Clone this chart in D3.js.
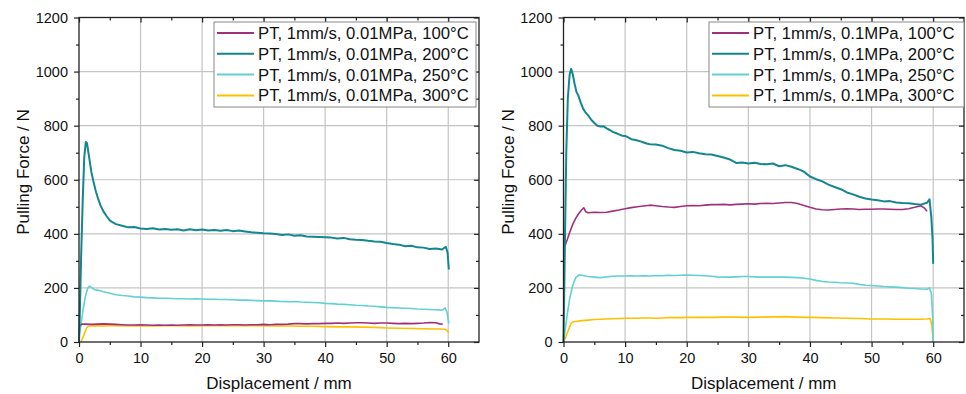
<!DOCTYPE html>
<html>
<head>
<meta charset="utf-8">
<script src="https://cdn.jsdelivr.net/npm/d3@7/dist/d3.min.js"></script>
<style>
  body { margin: 0; background: #fff; }
  svg { display: block; font-family: "Liberation Sans", Arial, sans-serif; }
</style>
</head>
<body>
<script>
"use strict";

// ---- data ------------------------------------------------------------------
const xTicks = [0, 10, 20, 30, 40, 50, 60];
const yTicks = [0, 200, 400, 600, 800, 1000, 1200];
const colors = ["#a0307c", "#13868e", "#62d0d4", "#ffc000"];
const namesLow = ["PT, 1mm/s, 0.01MPa, 100°C", "PT, 1mm/s, 0.01MPa, 200°C",
                  "PT, 1mm/s, 0.01MPa, 250°C", "PT, 1mm/s, 0.01MPa, 300°C"];
const namesHigh = ["PT, 1mm/s, 0.1MPa, 100°C", "PT, 1mm/s, 0.1MPa, 200°C",
                   "PT, 1mm/s, 0.1MPa, 250°C", "PT, 1mm/s, 0.1MPa, 300°C"];

// 0.01 MPa
const low100 = [[0.2,62],[0.5,66],[1,66],[2,65],[3,66],[4,67],[5,66],[6,65],[7,64],[8,63],[9,63],[10,64],[11,63],[12,62],[13,63],[14,62],[15,63],[16,62],[17,63],[18,64],[19,63],[20,63],[21,64],[22,63],[23,64],[24,63],[25,64],[26,64],[27,63],[28,64],[29,64],[30,65],[31,64],[32,65],[33,65],[34,66],[35,68],[36,68],[37,67],[38,68],[39,68],[40,69],[41,69],[42,70],[43,69],[44,70],[45,71],[46,71],[47,70],[48,69],[49,70],[50,70],[51,69],[52,68],[53,69],[54,68],[55,69],[56,70],[57,72],[58,71],[58.6,67],[59.1,66]];
const low200 = [[0,0],[0.15,120],[0.35,320],[0.6,520],[0.85,680],[1.1,740],[1.3,735],[1.6,690],[2,630],[2.3,598],[2.7,560],[3.1,530],[3.5,505],[4,482],[4.5,465],[5,450],[5.5,442],[6,436],[7,430],[8,424],[9,425],[10,420],[11,418],[12,421],[13,416],[14,418],[15,415],[16,417],[17,412],[18,417],[19,413],[20,416],[21,412],[22,414],[23,411],[24,414],[25,410],[26,412],[27,409],[28,406],[29,404],[30,402],[31,401],[32,399],[33,396],[34,398],[35,393],[36,395],[37,390],[38,389],[39,388],[40,387],[41,386],[42,383],[43,385],[44,380],[45,378],[46,377],[47,374],[48,372],[49,371],[50,366],[51,362],[52,360],[53,354],[54,356],[55,350],[56,349],[57,344],[58,346],[59,342],[59.6,352],[59.9,330],[60.1,268]];
const low250 = [[0,20],[0.3,60],[0.6,110],[1.0,165],[1.4,198],[1.7,207],[2.1,200],[2.6,193],[3,192],[4,186],[5,180],[6,175],[7,172],[8,170],[9,167],[10,166],[11,164],[12,163],[13,162],[14,162],[15,161],[16,160],[17,160],[18,159],[19,160],[20,159],[21,158],[22,158],[23,157],[24,157],[25,156],[26,155],[27,155],[28,154],[29,153],[30,152],[31,152],[32,151],[33,150],[34,149],[35,150],[36,148],[37,147],[38,146],[39,145],[40,143],[41,142],[42,140],[43,139],[44,138],[45,136],[46,135],[47,133],[48,132],[49,130],[50,128],[51,127],[52,126],[53,125],[54,124],[55,122],[56,121],[57,120],[58,119],[59,118],[59.5,126],[59.8,110],[60.1,68]];
const low300 = [[0.3,0],[0.6,15],[0.9,32],[1.2,50],[1.5,58],[2,59],[3,60],[4,59],[5,60],[6,60],[8,59],[10,60],[12,59],[14,60],[16,60],[18,59],[20,60],[22,60],[24,60],[26,60],[28,60],[30,60],[32,59],[34,59],[36,58],[38,58],[40,57],[42,56],[44,56],[46,55],[48,54],[50,52],[52,51],[54,50],[56,49],[58,48],[59,48],[59.6,46],[59.9,40],[60.1,33]];

// 0.1 MPa
const high100 = [[0,348],[0.3,360],[0.6,378],[1,405],[1.5,435],[2,458],[2.5,476],[3,490],[3.3,496],[3.6,482],[4,478],[5,480],[6,479],[7,480],[8,484],[9,488],[10,493],[11,497],[12,500],[13,503],[14,506],[15,504],[16,501],[17,499],[18,498],[19,501],[20,504],[21,505],[22,504],[23,506],[24,508],[25,508],[26,509],[27,507],[28,509],[29,510],[30,511],[31,510],[32,512],[33,513],[34,512],[35,514],[36,516],[37,516],[38,512],[39,505],[40,498],[41,492],[42,489],[43,488],[44,490],[45,492],[46,493],[47,492],[48,490],[49,491],[50,491],[51,492],[52,492],[53,491],[54,490],[55,490],[56,493],[57,498],[58,504],[58.6,495],[59,483]];
const high200 = [[0,0],[0.1,150],[0.25,400],[0.45,700],[0.7,900],[1.0,990],[1.25,1010],[1.5,990],[1.8,955],[2.1,925],[2.4,912],[2.8,885],[3.2,862],[3.6,848],[4,838],[4.5,822],[5,810],[5.5,800],[6,797],[6.5,798],[7,790],[7.5,784],[8,777],[8.5,773],[9,768],[9.5,763],[10,762],[10.5,757],[11,750],[11.5,748],[12,745],[12.5,742],[13,738],[13.5,734],[14,731],[15,730],[16,726],[17,717],[18,710],[19,707],[20,701],[21,703],[22,698],[23,694],[24,693],[25,688],[26,682],[27,675],[28,662],[29,664],[30,660],[31,663],[32,658],[33,657],[34,660],[35,650],[36,654],[37,648],[38,640],[39,630],[40,612],[41,602],[42,594],[43,582],[44,573],[45,565],[46,553],[47,546],[48,537],[49,531],[50,527],[51,524],[52,520],[53,521],[54,516],[55,514],[56,513],[57,510],[58,508],[59,515],[59.4,528],[59.7,460],[59.9,380],[60,289]];
const high250 = [[0,0],[0.3,50],[0.6,100],[1,160],[1.5,210],[2,238],[2.5,248],[3,247],[3.5,244],[4,242],[5,240],[6,238],[7,241],[8,243],[9,244],[10,244],[11,245],[12,244],[13,245],[14,244],[15,246],[16,245],[17,247],[18,246],[19,247],[20,248],[21,247],[22,246],[23,245],[24,243],[25,241],[26,240],[27,240],[28,241],[29,242],[30,242],[31,241],[32,240],[33,240],[34,240],[35,240],[36,240],[37,239],[38,238],[39,236],[40,233],[41,228],[42,224],[43,222],[44,221],[45,219],[46,218],[47,217],[48,213],[49,210],[50,209],[51,207],[52,205],[53,204],[54,203],[55,201],[56,199],[57,198],[58,196],[59,195],[59.4,200],[59.7,180],[59.9,100],[60,0]];
const high300 = [[0,0],[0.4,20],[0.8,45],[1.2,68],[1.5,74],[2,76],[3,79],[4,81],[5,83],[6,84],[7,85],[8,86],[9,87],[10,88],[11,88],[12,88],[13,89],[14,89],[15,88],[16,89],[17,90],[18,90],[19,90],[20,91],[22,91],[24,91],[26,92],[28,92],[30,91],[32,92],[34,93],[36,94],[38,92],[40,91],[42,90],[44,89],[46,88],[48,87],[50,85],[52,85],[54,84],[56,84],[58,84],[59,85],[59.5,87],[59.8,60],[60,0]];

// ---------------------------------------------------------------------------

const svg = d3.select("body").append("svg")
              .attr("width", 966)
              .attr("height", 394);

const drawPanel = (left, right, series, names, legendX, legendW) => {
  const top = 17.5, bottom = 342;
  const x = d3.scaleLinear().domain([0, 65]).range([left, right]);
  const y = d3.scaleLinear().domain([0, 1200]).range([bottom, top]);
  const g = svg.append("g");
  const minorX = d3.range(5, 65, 10);
  const minorY = d3.range(100, 1200, 200);
  const noDomain = sel => sel.call(_ => _.select(".domain").remove());

  // grid
  g.append("g").selectAll("line").data(xTicks.slice(1)).enter().append("line")
   .attr("x1", d => x(d)).attr("x2", d => x(d)).attr("y1", top).attr("y2", bottom)
   .attr("stroke", "#c4c4c4").attr("stroke-width", 1.2);
  g.append("g").selectAll("line").data(yTicks.slice(1, -1)).enter().append("line")
   .attr("y1", d => y(d)).attr("y2", d => y(d)).attr("x1", left).attr("x2", right)
   .attr("stroke", "#c4c4c4").attr("stroke-width", 1.2);

  // curves
  const line = d3.line().x(d => x(d[0])).y(d => y(d[1]));
  const order = [3, 2, 0, 1];
  order.forEach(i => {
    g.append("path").datum(series[i])
     .attr("d", line)
     .attr("fill", "none")
     .attr("stroke", colors[i])
     .attr("stroke-width", i === 1 ? 2 : 1.6)
     .attr("stroke-linejoin", "round");
  });

  // axes
  const font = sel => sel.selectAll("text").attr("font-size", 14.5).attr("fill", "#111")
                         .attr("font-family", "'Liberation Sans', Arial, sans-serif");
  g.append("g").attr("transform", `translate(0,${bottom})`)
   .call(d3.axisBottom(x).tickValues(xTicks).tickSize(5).tickPadding(6).tickFormat(d3.format("d")))
   .call(noDomain).call(font);
  g.append("g").attr("transform", `translate(0,${bottom})`)
   .call(d3.axisBottom(x).tickValues(minorX).tickSize(3).tickFormat(""))
   .call(noDomain);
  g.append("g").attr("transform", `translate(${left},0)`)
   .call(d3.axisLeft(y).tickValues(yTicks).tickSize(5).tickPadding(6).tickFormat(d3.format("d")))
   .call(noDomain).call(font);
  g.append("g").attr("transform", `translate(${left},0)`)
   .call(d3.axisLeft(y).tickValues(minorY).tickSize(3).tickFormat(""))
   .call(noDomain);
  g.append("g").attr("transform", `translate(0,${top})`)
   .call(d3.axisTop(x).tickValues(xTicks).tickSize(-5).tickFormat(""))
   .call(noDomain);
  g.append("g").attr("transform", `translate(0,${top})`)
   .call(d3.axisTop(x).tickValues(minorX).tickSize(-3).tickFormat(""))
   .call(noDomain);
  g.append("g").attr("transform", `translate(${right},0)`)
   .call(d3.axisRight(y).tickValues(yTicks).tickSize(-5).tickFormat(""))
   .call(noDomain);
  g.append("g").attr("transform", `translate(${right},0)`)
   .call(d3.axisRight(y).tickValues(minorY).tickSize(-3).tickFormat(""))
   .call(noDomain);
  g.selectAll(".tick line").attr("stroke", "#222").attr("stroke-width", 1.2);

  g.append("rect")
   .attr("x", left).attr("y", top)
   .attr("width", right - left).attr("height", bottom - top)
   .attr("fill", "none").attr("stroke", "#222").attr("stroke-width", 1.3);

  // titles
  g.append("text")
   .attr("x", (left + right) / 2).attr("y", 389)
   .attr("text-anchor", "middle").attr("font-size", 17).attr("fill", "#111")
   .text("Displacement / mm");
  g.append("text")
   .attr("transform", `translate(${left - 50},172) rotate(-90)`)
   .attr("text-anchor", "middle").attr("font-size", 17).attr("fill", "#111")
   .text("Pulling Force / N");

  // legend
  const lg = g.append("g").attr("transform", `translate(${legendX},22)`);
  lg.append("rect")
    .attr("width", legendW).attr("height", 85)
    .attr("fill", "#fff").attr("stroke", "#888").attr("stroke-width", 1);
  names.forEach((name, i) => {
    const cy = 11 + i * 20.8;
    lg.append("line")
      .attr("x1", 3).attr("x2", 40).attr("y1", cy).attr("y2", cy)
      .attr("stroke", colors[i]).attr("stroke-width", 2);
    lg.append("text")
      .attr("x", 44).attr("y", cy).attr("dy", "0.36em")
      .attr("font-size", 16.7).attr("fill", "#111")
      .text(name);
  });
}

drawPanel(79, 479, [low100, low200, low250, low300], namesLow, 214, 262);
drawPanel(563.5, 964, [high100, high200, high250, high300], namesHigh, 709, 255);
</script>
</body>
</html>
